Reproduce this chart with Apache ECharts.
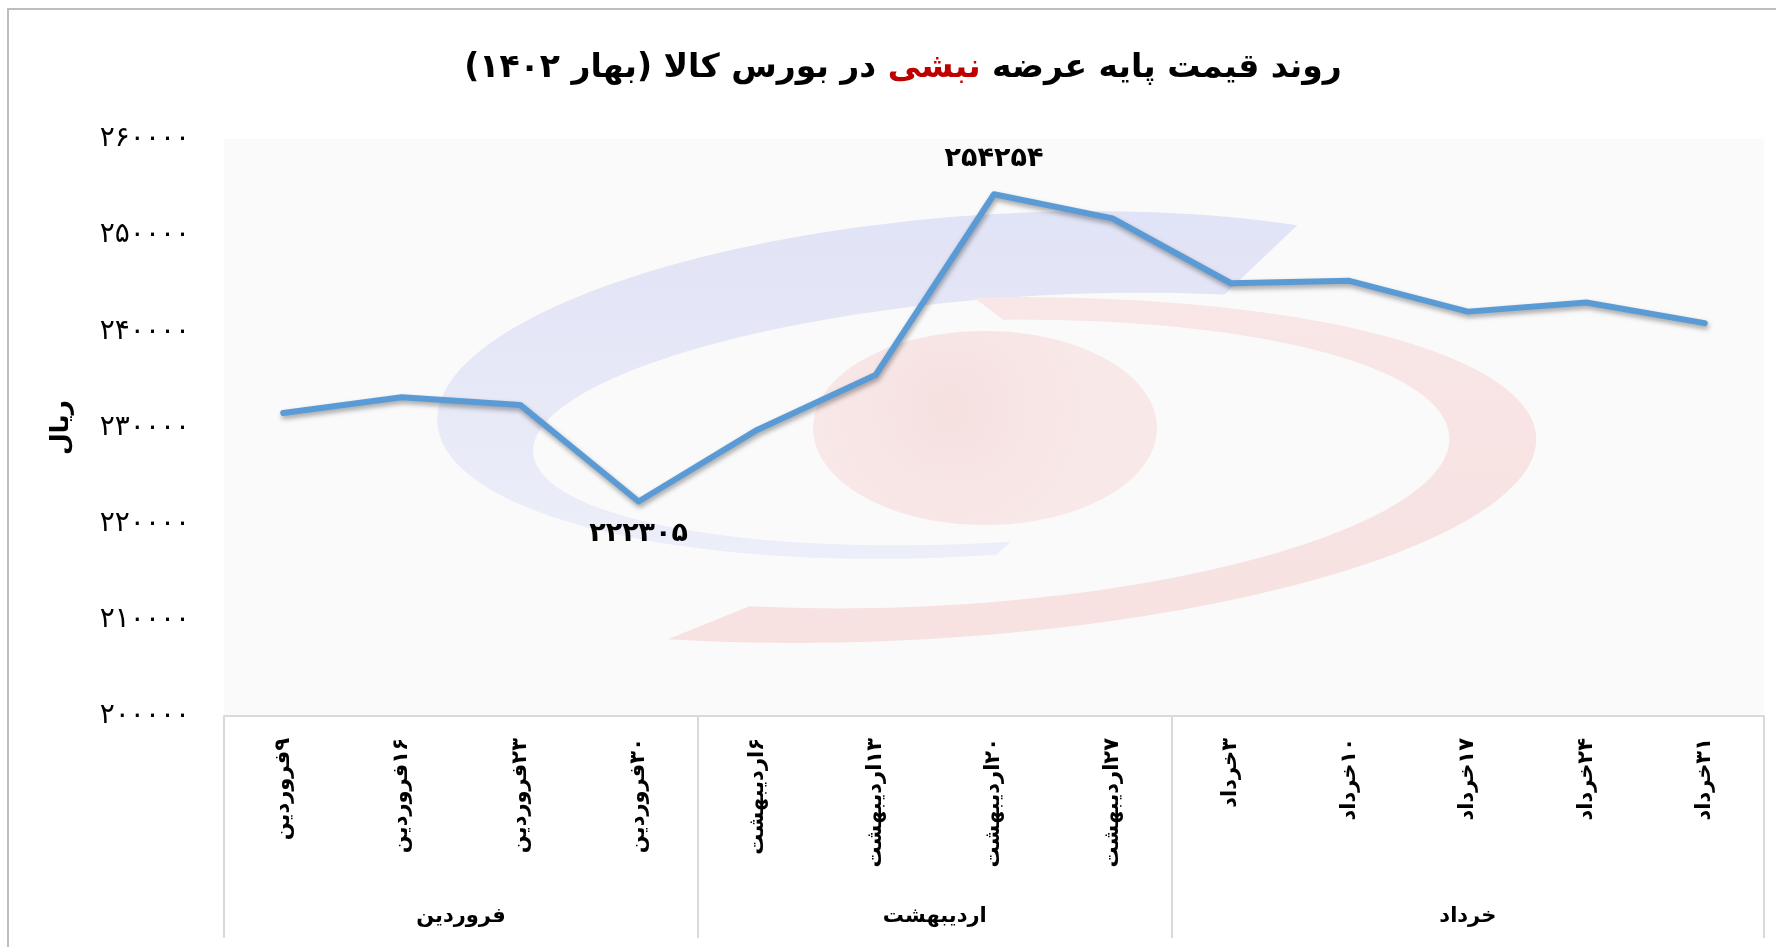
<!DOCTYPE html>
<html>
<head>
<meta charset="utf-8">
<script src="https://cdn.jsdelivr.net/npm/echarts@6/dist/echarts.min.js"></script>
<style>
    html, body { margin: 0; padding: 0; background: #fff; }
    #chart { width: 1776px; height: 947px; }
</style>
</head>
<body>
<div id="chart"></div>
<script>
(function () {
    var categories = ['۹فروردین', '۱۶فروردین', '۲۳فروردین', '۳۰فروردین', '۶اردیبهشت', '۱۳اردیبهشت', '۲۰اردیبهشت', '۲۷اردیبهشت', '۳خرداد', '۱۰خرداد', '۱۷خرداد', '۲۴خرداد', '۳۱خرداد'];
    var months = ['فروردین', 'اردیبهشت', 'خرداد'];
    var monthCounts = [4, 4, 5];
    var prices = [231500, 233150, 232350, 222305, 229750, 235450, 254254, 251750, 245000, 245250, 242050, 243000, 240850];

    var RLM = '\u200F';
    var FONT = 'DejaVu Sans';

    function toFa(n) {
        return String(n).replace(/\d/g, function (d) { return '۰۱۲۳۴۵۶۷۸۹'[d]; });
    }

    // month boundaries and centers on a 0..N scale
    var bounds = [0], centers = [];
    monthCounts.reduce(function (acc, c) {
        centers.push(acc + c / 2);
        bounds.push(acc + c);
        return acc + c;
    }, 0);

    var maxIdx = prices.indexOf(Math.max.apply(null, prices));
    var minIdx = prices.indexOf(Math.min.apply(null, prices));
    var lineData = prices.map(function (v, i) {
        if (i === maxIdx) return { value: v, label: { show: true, position: 'top', distance: 22 } };
        if (i === minIdx) return { value: v, label: { show: true, position: 'bottom', distance: 19 } };
        return v;
    });

    // watermark logo (decorative)
    function arcPts(cx, cy, rx, ry, rot, t0, t1) {
        var pts = [], a = rot * Math.PI / 180, step = t1 > t0 ? 2 : -2;
        for (var t = t0; step > 0 ? t <= t1 : t >= t1; t += step) {
            var r = t * Math.PI / 180;
            var dx = rx * Math.cos(r), dy = ry * Math.sin(r);
            pts.push([cx + dx * Math.cos(a) - dy * Math.sin(a), cy + dx * Math.sin(a) + dy * Math.cos(a)]);
        }
        return pts;
    }
    var bluePts = arcPts(985, 385, 549, 170, -4, -54, -270).concat(arcPts(1019, 419, 487, 122, -4, -268, -63));
    var redPts = arcPts(906, 470, 631, 170, -3, -83, 113).concat(arcPts(929, 464, 521, 142, -3, 111, -82));

    var myChart = echarts.init(document.getElementById('chart'));
    var option = {
        backgroundColor: '#ffffff',
        animation: false,
        graphic: [
            {
                type: 'rect', z: 0, silent: true,
                shape: { x: 8, y: 9, width: 1800, height: 1000 },
                style: { fill: 'none', stroke: '#bdbdbd', lineWidth: 2 }
            },
            {
                type: 'polygon', z: 1, silent: true,
                shape: { points: bluePts },
                style: {
                    fill: { type: 'linear', x: 0, y: 0, x2: 0, y2: 1, colorStops: [
                        { offset: 0, color: '#e1e3f6' }, { offset: 1, color: '#eceef9' }] }
                }
            },
            {
                type: 'polygon', z: 1, silent: true,
                shape: { points: redPts },
                style: {
                    fill: { type: 'linear', x: 0, y: 0, x2: 0, y2: 1, colorStops: [
                        { offset: 0, color: '#f9e6e6' }, { offset: 1, color: '#f7e1e1' }] }
                }
            },
            {
                type: 'ellipse', z: 1, silent: true,
                shape: { cx: 985, cy: 428, rx: 172, ry: 97 },
                style: {
                    fill: { type: 'radial', x: 0.4, y: 0.4, r: 0.7, colorStops: [
                        { offset: 0, color: '#f6e0e0' }, { offset: 1, color: '#f9e8e8' }] }
                }
            },
            {
                type: 'text', z: 5,
                style: {
                    x: 903, y: 68,
                    text: '{a|' + RLM + 'در بورس کالا (بهار ۱۴۰۲)' + RLM + '}{s| }{r|نبشی}{s| }{a|روند قیمت پایه عرضه}',
                    textAlign: 'center',
                    textVerticalAlign: 'middle',
                    rich: {
                        a: { fontFamily: FONT, fontWeight: 'bold', fontSize: 33, fill: '#000' },
                        s: { fontFamily: FONT, fontWeight: 'bold', fontSize: 33, fill: '#000' },
                        r: { fontFamily: FONT, fontWeight: 'bold', fontSize: 33, fill: '#c00000' }
                    }
                }
            }
        ],
        grid: {
            left: 224, right: 12, top: 139, bottom: 231,
            show: true, backgroundColor: '#fafafa', borderWidth: 0
        },
        xAxis: [
            {
                type: 'category',
                data: categories,
                boundaryGap: true,
                axisLine: { show: true, lineStyle: { color: '#d9d9d9', width: 2 } },
                axisTick: { show: false },
                axisLabel: {
                    interval: 0, rotate: 90, margin: 22,
                    fontFamily: FONT, fontWeight: 'bold', fontSize: 21, color: '#000',
                    formatter: function (v) { return RLM + v; }
                }
            },
            {
                type: 'value',
                position: 'bottom',
                min: 0, max: categories.length,
                axisLine: { show: false },
                splitLine: { show: false },
                axisTick: {
                    show: true, customValues: bounds, length: 222,
                    lineStyle: { color: '#d9d9d9', width: 2 }
                },
                axisLabel: {
                    customValues: centers, margin: 190,
                    fontFamily: FONT, fontWeight: 'bold', fontSize: 21, color: '#000',
                    formatter: function (v) { return months[centers.indexOf(v)] || ''; }
                }
            }
        ],
        yAxis: {
            type: 'value',
            min: 200000, max: 260000, interval: 10000,
            name: 'ریال',
            nameLocation: 'middle',
            nameRotate: 90,
            nameGap: 150,
            nameTextStyle: { fontFamily: FONT, fontWeight: 'bold', fontSize: 25, color: '#000' },
            axisLine: { show: false },
            axisTick: { show: false },
            splitLine: { show: false },
            axisLabel: {
                margin: 34,
                fontFamily: FONT, fontSize: 28, color: '#000',
                formatter: function (v) { return toFa(v); }
            }
        },
        series: [
            {
                type: 'line',
                xAxisIndex: 0,
                data: lineData,
                symbol: 'circle',
                symbolSize: 0,
                showSymbol: true,
                itemStyle: { color: '#5b9bd5' },
                z: 3,
                lineStyle: {
                    color: '#5b9bd5', width: 6, cap: 'round', join: 'round',
                    shadowColor: 'rgba(0,0,0,0.35)', shadowBlur: 5, shadowOffsetX: 1, shadowOffsetY: 3
                },
                label: {
                    show: false,
                    fontFamily: FONT, fontWeight: 'bold', fontSize: 27, color: '#000',
                    formatter: function (p) { return toFa(p.value); }
                }
            }
        ]
    };
    myChart.setOption(option);
    window.addEventListener('resize', function () {
        myChart.resize();
    });
})();
</script>
</body>
</html>
